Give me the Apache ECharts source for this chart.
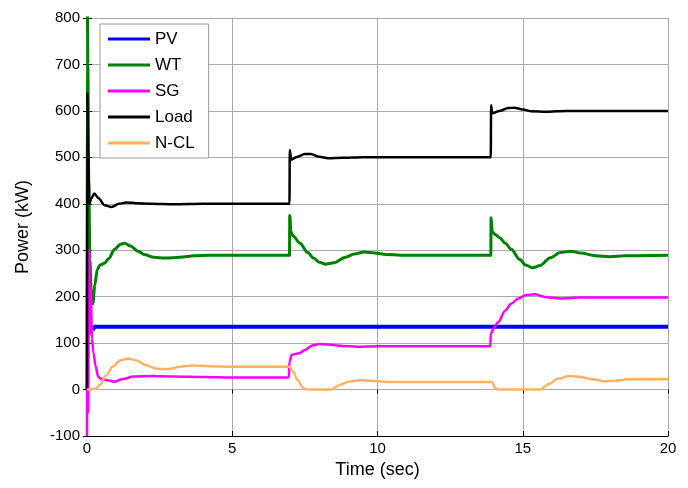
<!DOCTYPE html>
<html>
<head>
<meta charset="utf-8">
<script src="https://cdn.jsdelivr.net/npm/echarts@6/dist/echarts.min.js"></script>
<style>html,body{margin:0;padding:0;background:#fff}#c{width:688px;height:488px}</style>
</head>
<body>
<div id="c"></div>
<script>
// Series names
const seriesNames = ['PV', 'WT', 'SG', 'Load', 'N-CL'];
// Axis ticks
const xTicks = [0, 5, 10, 15, 20];
const yTicks = [-100, 0, 100, 200, 300, 400, 500, 600, 700, 800];

// [time (s), power (kW)]
const pvData = [[0.2, 128], [0.25, 135], [20, 135]];

const wtData = [[0,0],[0.01,850],[0.03,700],[0.06,450],[0.1,280],[0.15,195],[0.2,185],[0.27,225],[0.35,258],[0.45,268],[0.6,272],[0.75,282],[0.95,302],[1.15,313],[1.3,315],[1.5,309],[1.75,298],[2.0,290],[2.3,285],[2.7,283],[3.2,285],[3.7,288],[4.2,289],[5,289],[6.97,289],[6.98,375],[7.02,340],[7.1,330],[7.33,315],[7.6,295],[7.8,283],[8.0,274],[8.2,270],[8.5,273],[8.9,285],[9.2,292],[9.55,296],[9.9,294],[10.3,291],[10.8,289],[12,289],[13.9,289],[13.91,370],[13.95,340],[14.05,334],[14.2,327],[14.4,315],[14.6,302],[14.9,280],[15.1,268],[15.35,262],[15.6,267],[15.95,284],[16.3,295],[16.65,298],[17.0,294],[17.5,288],[18,286],[18.5,288],[20,289]];

const sgData = [[0,-100],[0.02,250],[0.04,-50],[0.07,300],[0.1,120],[0.13,220],[0.17,110],[0.22,80],[0.3,50],[0.38,28],[0.5,22],[0.7,20],[0.95,17],[1.2,22],[1.6,28],[2.2,29],[3,28],[4,27],[5,26],[6.95,26],[6.97,60],[7.05,75],[7.3,78],[7.5,85],[7.75,95],[8.0,98],[8.3,97],[8.8,94],[9.3,92],[10,93],[11,93],[13.88,93],[13.9,120],[14.0,132],[14.15,145],[14.4,170],[14.6,185],[14.85,196],[15.1,203],[15.4,205],[15.8,199],[16.3,196],[17,198],[20,198]];

const loadData = [[0,0],[0.01,640],[0.04,520],[0.08,400],[0.15,412],[0.25,422],[0.4,412],[0.6,397],[0.85,393],[1.1,400],[1.35,403],[1.7,401],[2.2,400],[3,399],[4,400],[6.97,400],[6.98,516],[7.03,495],[7.2,500],[7.5,507],[7.7,507],[8.0,501],[8.3,498],[8.8,499],[9.5,500],[13.9,500],[13.91,612],[13.95,595],[14.2,600],[14.5,606],[14.7,607],[15.0,603],[15.3,599],[15.8,598],[16.5,600],[20,600]];

const nclData = [[0,0],[0.3,2],[0.45,10],[0.65,30],[0.9,50],[1.15,63],[1.4,67],[1.7,63],[2.0,53],[2.4,45],[2.8,44],[3.2,49],[3.6,52],[4.2,50],[5,49],[6.97,49],[7.1,38],[7.25,20],[7.45,3],[7.6,0],[8.4,0],[8.7,10],[9.0,17],[9.4,20],[10,18],[10.5,16],[13.95,16],[14.05,3],[14.2,0],[15.6,0],[15.9,12],[16.2,23],[16.6,29],[17.0,27],[17.4,22],[17.8,18],[18.2,19],[18.6,22],[20,22]];

const colors = ['#0000ff', '#008000', '#ff00ff', '#000000', '#ffb266'];
const widths = [4, 3, 2.5, 2.5, 2.5];
const datasets = [pvData, wtData, sgData, loadData, nclData];

const FONT = 'Liberation Sans, Arial, sans-serif';
const chart = echarts.init(document.getElementById('c'));
chart.setOption({
  animation: false,
  backgroundColor: '#fff',
  grid: { left: 87, right: 20, top: 18, bottom: 52, containLabel: false },
  legend: {
    orient: 'vertical', left: 100, top: 24,
    data: seriesNames.map((n, i) => ({ name: n, icon: 'rect', itemStyle: { color: colors[i] } })),
    itemWidth: 42, itemHeight: 3, itemGap: 6,
    backgroundColor: '#fff', borderColor: '#999', borderWidth: 1, borderRadius: 0,
    padding: [5, 14, 5, 8],
    textStyle: { fontFamily: FONT, fontSize: 17, color: '#000', lineHeight: 20 }
  },
  xAxis: [{
    type: 'value', min: xTicks[0], max: xTicks[xTicks.length - 1], interval: 5,
    name: 'Time (sec)', nameLocation: 'middle', nameGap: 25,
    nameTextStyle: { fontFamily: FONT, fontSize: 18, color: '#000' },
    axisLine: { show: true, onZero: false, lineStyle: { color: '#000', width: 1 } },
    axisTick: { show: true, inside: true, length: 5, lineStyle: { color: '#000' } },
    axisLabel: { fontFamily: FONT, fontSize: 15, color: '#000', margin: 5 },
    splitLine: { show: true, lineStyle: { color: '#aaa', width: 1 } }
  }, {
    type: 'value', position: 'top', min: 0, max: 20, interval: 5,
    axisLine: { show: true, lineStyle: { color: '#aaa' } },
    axisTick: { show: true, inside: true, length: 4, lineStyle: { color: '#000' } },
    axisLabel: { show: false }, splitLine: { show: false }
  }],
  yAxis: [{
    type: 'value', min: yTicks[0], max: yTicks[yTicks.length - 1], interval: 100,
    name: 'Power (kW)', nameLocation: 'middle', nameGap: 55,
    nameTextStyle: { fontFamily: FONT, fontSize: 18, color: '#000' },
    axisLine: { show: true, onZero: false, lineStyle: { color: '#000', width: 1 } },
    axisTick: { show: true, inside: true, length: 5, lineStyle: { color: '#000' } },
    axisLabel: { fontFamily: FONT, fontSize: 15, color: '#000', margin: 7 },
    splitLine: { show: true, lineStyle: { color: '#aaa', width: 1 } }
  }, {
    type: 'value', position: 'right', min: -100, max: 800, interval: 100,
    axisLine: { show: true, lineStyle: { color: '#aaa' } },
    axisTick: { show: true, inside: true, length: 4, lineStyle: { color: '#000' } },
    axisLabel: { show: false }, splitLine: { show: false }
  }],
  series: seriesNames.map((n, i) => ({
    name: n, type: 'line', data: datasets[i],
    showSymbol: false, symbol: 'none', clip: true,
    smooth: i === 0 ? false : 0.3, smoothMonotone: 'x',
    lineStyle: { color: colors[i], width: widths[i] },
    itemStyle: { color: colors[i] },
    emphasis: { disabled: true }
  }))
});
</script>
</body>
</html>
